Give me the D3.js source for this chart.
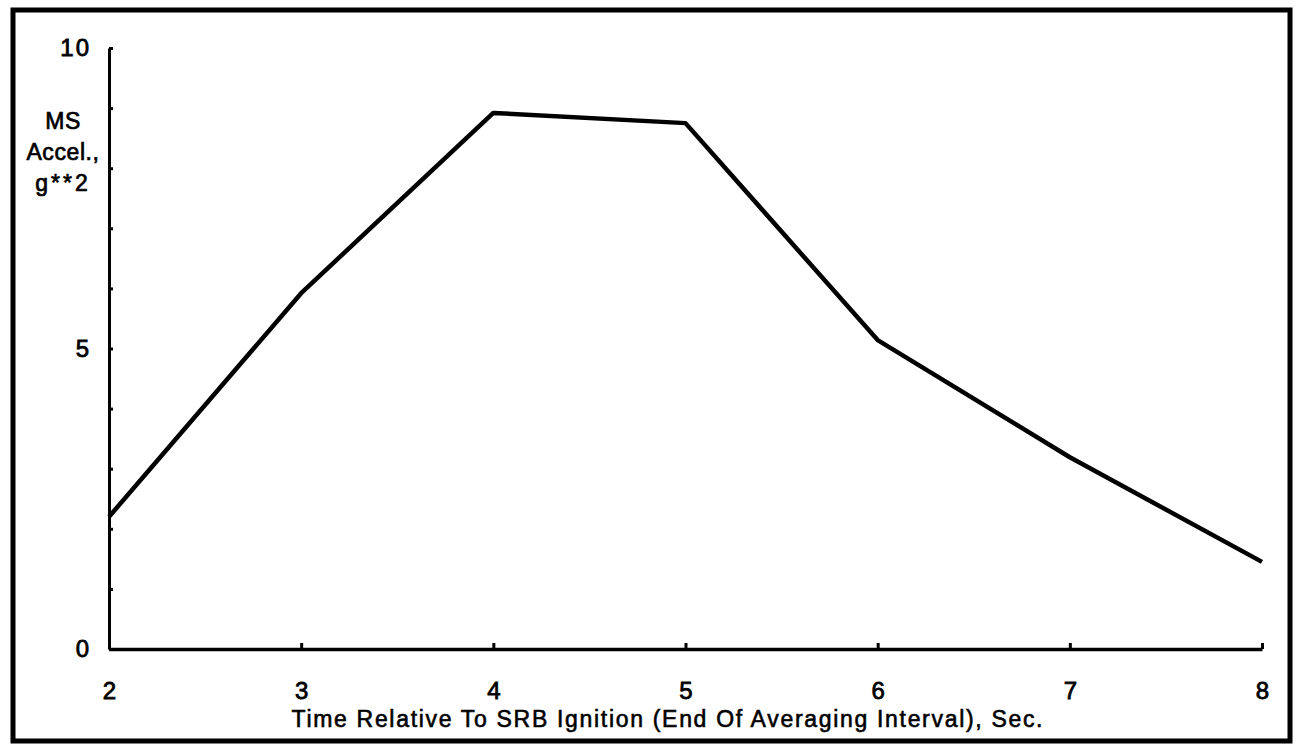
<!DOCTYPE html>
<html><head><meta charset="utf-8">
<script src="https://cdn.jsdelivr.net/npm/d3@7"></script>
<style>
html,body{margin:0;padding:0;background:#fff;}
svg{display:block;}
text{font-family:"Liberation Sans",Arial,Helvetica,sans-serif;fill:#000;}
</style></head>
<body>
<svg id="chart" width="1303" height="745"></svg>
<script>
const times = [2, 3, 4, 5, 6, 7, 8];
const msAccel = [2.2, 5.92, 8.92, 8.75, 5.14, 3.19, 1.45];
const yTickValues = [0,1,2,3,4,5,6,7,8,9,10];
const yLabelValues = [0, 5, 10];
const xTickValues = [2, 3, 4, 5, 6, 7, 8];
const yTitleLines = ["MS", "Accel.,", "g**2"];
const xTitle = "Time Relative To SRB Ignition (End Of Averaging Interval), Sec.";

const FONT = '"Liberation Sans",Arial,sans-serif';
const svg = d3.select("#chart");
const x = d3.scaleLinear().domain([2, 8]).range([109, 1262]);
const y = d3.scaleLinear().domain([0, 10]).range([649, 48]);

// outer frame
svg.append("rect").attr("x", 13).attr("y", 10).attr("width", 1277).attr("height", 731)
  .attr("fill", "none").attr("stroke", "#000").attr("stroke-width", 5);

// y axis
const yAxis = d3.axisLeft(y).tickValues(yTickValues)
  .tickFormat(d => yLabelValues.includes(d) ? d3.format("d")(d) : "")
  .tickSizeInner(-4).tickSizeOuter(0).tickPadding(18);
const gy = svg.append("g").attr("transform", `translate(${x(2)},0)`).call(yAxis);
gy.select(".domain").attr("stroke-width", 3);
gy.selectAll(".tick line").attr("stroke-width", 3);
gy.selectAll(".tick text").attr("font-size", 24).attr("font-family", FONT)
  .attr("letter-spacing", 2)
  .attr("stroke", "#000").attr("stroke-width", 0.8);

// x axis
const xAxis = d3.axisBottom(x).tickValues(xTickValues).tickFormat(d3.format("d"))
  .tickSizeInner(-6).tickSizeOuter(0).tickPadding(33);
const gx = svg.append("g").attr("transform", `translate(0,${y(0)})`).call(xAxis);
gx.select(".domain").attr("stroke-width", 3.5);
gx.selectAll(".tick line").attr("stroke-width", 3);
gx.selectAll(".tick text").attr("font-size", 24).attr("font-family", FONT)
  .attr("stroke", "#000").attr("stroke-width", 0.8);

// line
const line = d3.line().x((d, i) => x(times[i])).y(d => y(d));
svg.append("path").datum(msAccel).attr("d", line)
  .attr("fill", "none").attr("stroke", "#000").attr("stroke-width", 4.5)
  .attr("stroke-linejoin", "round");

// y title
const yt = svg.append("text").attr("text-anchor", "middle").attr("font-size", 23)
  .attr("stroke", "#000").attr("stroke-width", 0.7);
yt.selectAll("tspan").data(yTitleLines).join("tspan")
  .attr("x", 63).attr("y", (d, i) => 129 + i * 31)
  .attr("letter-spacing", (d, i) => i === 2 ? 3 : 0.6)
  .text(d => d);

// x title
svg.append("text").attr("x", 667).attr("y", 727).attr("text-anchor", "middle")
  .attr("font-size", 23).attr("stroke", "#000").attr("stroke-width", 0.6)
  .attr("textLength", 751).attr("lengthAdjust", "spacing")
  .text(xTitle);
</script>
</body></html>
